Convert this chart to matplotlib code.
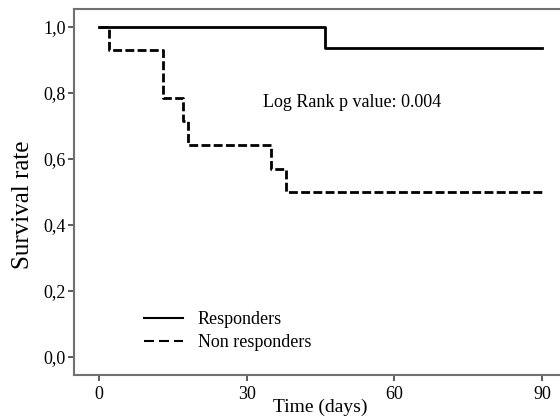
import matplotlib
matplotlib.use("Agg")
import matplotlib.pyplot as plt
from matplotlib.lines import Line2D
from matplotlib.ticker import FuncFormatter

plt.rcParams['font.family'] = ['Liberation Serif', 'DejaVu Serif']

# Kaplan-Meier steps (time in days, survival rate)
resp_time = [0, 46, 90]
resp_surv = [1.0, 0.9375, 0.9375]

nonresp_time = [0, 2, 13, 17, 18, 35, 38, 90]
nonresp_surv = [1.0, 0.929, 0.786, 0.714, 0.643, 0.571, 0.5, 0.5]

x_ticks = [0, 30, 60, 90]
y_ticks = [0.0, 0.2, 0.4, 0.6, 0.8, 1.0]

fig = plt.figure(figsize=(5.6, 4.18), dpi=100)
ax = fig.add_axes([74 / 560, 1 - 375 / 418, 500 / 560, 366 / 418])

ax.step(resp_time, resp_surv, where="post", color="black", lw=2)
ax.step(nonresp_time, nonresp_surv, where="post", color="black", lw=2,
        ls=(0, (3.2, 1.2)))

ax.set_xlim(-5.1, 96.5)
ax.set_ylim(-0.0545, 1.0545)
ax.set_xticks(x_ticks)
ax.set_yticks(y_ticks)
ax.yaxis.set_major_formatter(FuncFormatter(lambda v, p: "{:.1f}".format(v).replace(".", ",")))

for s in ax.spines.values():
    s.set_color("#707070")
    s.set_linewidth(1.5)
ax.tick_params(direction="out", length=4, width=1.2, color="#404040",
               labelsize=13, pad=2)
ax.tick_params(axis="x", pad=4)

ax.set_xlabel("Time (days)", fontsize=14)
ax.xaxis.set_label_coords(0.492, -0.066)
ax.set_ylabel("Survival rate", fontsize=18)
ax.yaxis.set_label_coords(-0.08, 0.464)

ax.text(33.3, 0.77, "Log Rank p value: 0.004", fontsize=13, va="center")

handles = [Line2D([], [], color="black", lw=1.5),
           Line2D([], [], color="black", lw=1.5, ls=(0, (4.8, 2.4)))]
ax.legend(handles, ["Responders", "Non responders"], loc="lower left",
          bbox_to_anchor=(0.107, 0.02), frameon=False, fontsize=13,
          handlelength=2.2, handletextpad=0.8, labelspacing=0.35)

fig.savefig("out.png", dpi=100)
